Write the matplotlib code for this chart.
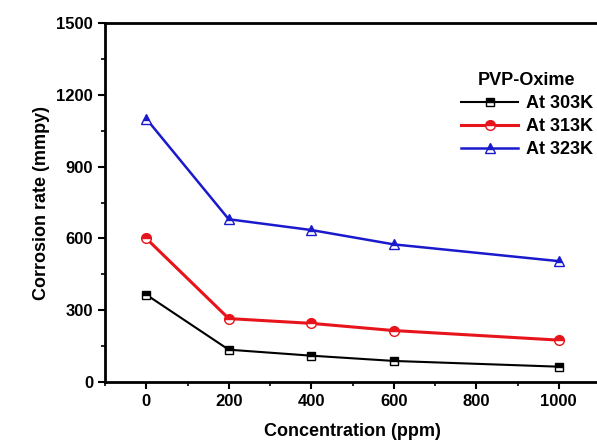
import matplotlib.pyplot as plt
from matplotlib.ticker import MultipleLocator

plt.rcParams['font.family'] = ['Liberation Sans', 'DejaVu Sans']
plt.rcParams['font.weight'] = 'bold'

conc = [0, 200, 400, 600, 1000]
rate_303 = [365, 135, 110, 88, 64]
rate_313 = [600, 265, 245, 215, 175]
rate_323 = [1100, 680, 635, 575, 505]
labels = ['At 303K', 'At 313K', 'At 323K']

fig = plt.figure(figsize=(5.97, 4.47), dpi=100)
ax = fig.add_axes([105 / 597, 65 / 447, 495 / 597, 359 / 447])

ax.plot(conc, rate_303, color='black', marker='s', ms=6, lw=1.5,
        fillstyle='top', markerfacecoloralt='white', label=labels[0])
ax.plot(conc, rate_313, color='#e8141c', marker='o', ms=7, lw=2.2,
        fillstyle='top', markerfacecoloralt='white', label=labels[1])
ax.plot(conc, rate_323, color='#1a1acc', marker='^', ms=7, lw=1.8,
        fillstyle='top', markerfacecoloralt='white', label=labels[2])

ax.set_xlim(-100, 1100)
ax.set_ylim(0, 1500)
ax.xaxis.set_major_locator(MultipleLocator(200))
ax.xaxis.set_minor_locator(MultipleLocator(100))
ax.yaxis.set_major_locator(MultipleLocator(300))
ax.yaxis.set_minor_locator(MultipleLocator(150))
ax.tick_params(which='major', direction='out', length=5, width=1.5, labelsize=12)
ax.tick_params(which='minor', direction='out', length=3, width=1.2)
for s in ax.spines.values():
    s.set_linewidth(2)

ax.set_xlabel('Concentration (ppm)', fontsize=13, fontweight='bold', labelpad=10)
ax.set_ylabel('Corrosion rate (mmpy)', fontsize=13, fontweight='bold', labelpad=5)

leg = ax.legend(title='PVP-Oxime', frameon=False, loc='upper right',
                bbox_to_anchor=(1.0, 0.885), fontsize=13, title_fontsize=13,
                handlelength=3.2, handletextpad=0.4, labelspacing=0.35,
                borderaxespad=0)
leg.get_title().set_fontweight('bold')

fig.savefig('out.png', dpi=100)
